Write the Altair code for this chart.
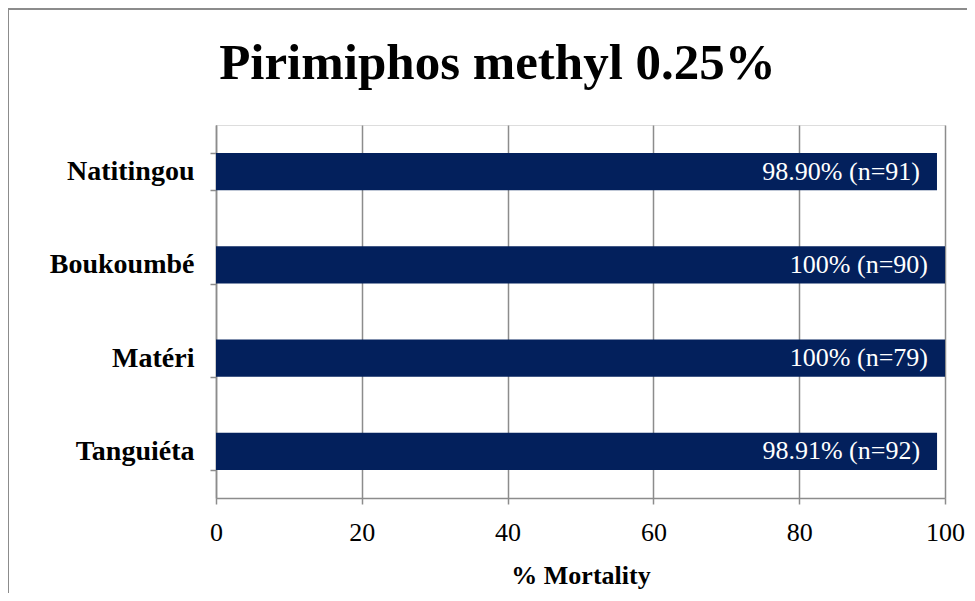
import altair as alt
import pandas as pd

sites = ["Natitingou", "Boukoumbé", "Matéri", "Tanguiéta"]
mortality = [98.90, 100, 100, 98.91]
labels = ["98.90% (n=91)", "100% (n=90)", "100% (n=79)", "98.91% (n=92)"]
x_ticks = [0, 20, 40, 60, 80, 100]

df = pd.DataFrame({"site": sites, "mortality": mortality, "label": labels})

FONT = "Liberation Serif"
GRAY = "#8c8c8c"
NAVY = "#03205c"

y_enc = alt.Y(
    "site:N",
    sort=sites,
    scale=alt.Scale(paddingInner=0.6, paddingOuter=0.3),
    axis=alt.Axis(
        title=None,
        labelFont=FONT,
        labelFontWeight="bold",
        labelFontSize=28,
        labelColor="black",
        labelPadding=16,
        domainColor=GRAY,
        domainWidth=1.5,
        tickColor=GRAY,
        tickWidth=1.5,
        tickSize=6,
        tickBand="extent",
        grid=False,
    ),
)

x_enc = alt.X(
    "mortality:Q",
    scale=alt.Scale(domain=[0, 100], nice=False),
    axis=alt.Axis(
        values=x_ticks,
        title="% Mortality",
        titleFont=FONT,
        titleFontWeight="bold",
        titleFontSize=26,
        titleColor="black",
        titlePadding=17,
        labelFont=FONT,
        labelFontSize=26,
        labelColor="black",
        labelPadding=15,
        labelFlush=False,
        domainColor=GRAY,
        domainWidth=1.5,
        tickColor=GRAY,
        tickWidth=1.5,
        tickSize=6,
        grid=True,
        gridColor=GRAY,
        gridWidth=1.5,
    ),
)

bars = alt.Chart(df).mark_bar(color=NAVY).encode(x=x_enc, y=y_enc)

text = alt.Chart(df).mark_text(
    align="right", baseline="middle", dx=-17, color="white", font=FONT, fontSize=26
).encode(x="mortality:Q", y=alt.Y("site:N", sort=sites), text="label:N")

frame = alt.Chart(pd.DataFrame({"k": [0]})).mark_rect(
    fill="white", fillOpacity=0, stroke=GRAY, strokeWidth=2, clip=False
).encode(
    x=alt.value(-208), x2=alt.value(800), y=alt.value(-116), y2=alt.value(600)
)

chart = (
    alt.layer(bars, text, frame)
    .properties(
        width=729,
        height=373,
        autosize=alt.AutoSizeParams(type="none"),
        padding={"left": 208, "top": 117, "right": 22, "bottom": 95},
        title=alt.TitleParams(
            "Pirimiphos methyl 0.25%",
            font=FONT,
            fontSize=51,
            fontWeight="bold",
            color="black",
            anchor="middle",
            frame="group",
            dx=-83,
            baseline="alphabetic",
            offset=-122,
        ),
    )
    .configure_view(stroke=None)
    .configure(background="white")
)

chart.save("out.html", embed_options={"renderer": "svg", "actions": False})
